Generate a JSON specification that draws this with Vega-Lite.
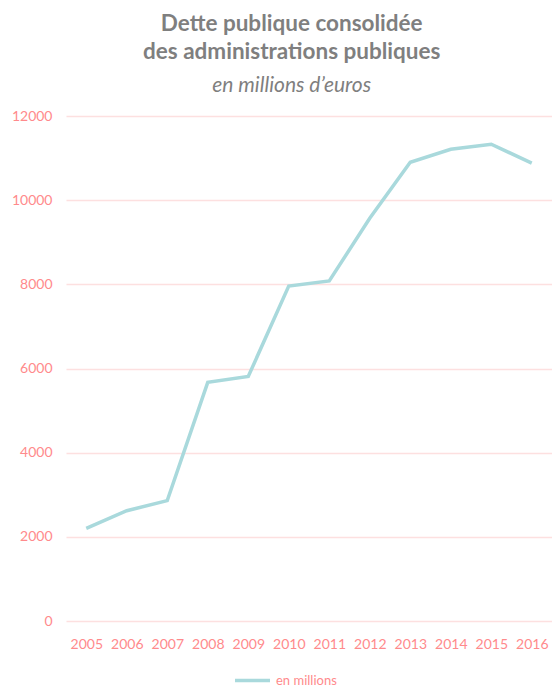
{
  "$schema": "https://vega.github.io/schema/vega-lite/v6.json",
  "width": 486,
  "height": 505,
  "autosize": {"type": "none"},
  "padding": {"left": 66, "top": 116, "right": 0, "bottom": 67},
  "background": "white",
  "title": {
    "text": ["Dette publique consolidée", "des administrations publiques"],
    "subtitle": "en millions d’euros",
    "anchor": "middle",
    "frame": "bounds",
    "dx": 10,
    "font": "Lato",
    "fontSize": 22.5,
    "fontWeight": "bold",
    "color": "#7f7f7f",
    "lineHeight": 28,
    "subtitleFont": "Lato",
    "subtitleFontSize": 21,
    "subtitleFontStyle": "italic",
    "subtitleColor": "#7f7f7f",
    "subtitlePadding": 12,
    "offset": 13
  },
  "data": {
    "values": [
      {"annee": "2005", "valeur": 2200, "serie": "en millions"},
      {"annee": "2006", "valeur": 2620, "serie": "en millions"},
      {"annee": "2007", "valeur": 2860, "serie": "en millions"},
      {"annee": "2008", "valeur": 5670, "serie": "en millions"},
      {"annee": "2009", "valeur": 5810, "serie": "en millions"},
      {"annee": "2010", "valeur": 7960, "serie": "en millions"},
      {"annee": "2011", "valeur": 8080, "serie": "en millions"},
      {"annee": "2012", "valeur": 9570, "serie": "en millions"},
      {"annee": "2013", "valeur": 10900, "serie": "en millions"},
      {"annee": "2014", "valeur": 11210, "serie": "en millions"},
      {"annee": "2015", "valeur": 11330, "serie": "en millions"},
      {"annee": "2016", "valeur": 10880, "serie": "en millions"}
    ]
  },
  "mark": {"type": "line", "strokeWidth": 3.5, "strokeCap": "butt"},
  "encoding": {
    "x": {
      "field": "annee",
      "type": "ordinal",
      "scale": {"type": "point", "padding": 0.5},
      "axis": {
        "title": null,
        "labelAngle": 0,
        "domain": false,
        "ticks": false,
        "labelFont": "Lato",
        "labelFontSize": 14,
        "labelColor": "#ff8a8c",
        "labelPadding": 16
      }
    },
    "y": {
      "field": "valeur",
      "type": "quantitative",
      "scale": {"domain": [0, 12000], "nice": false},
      "axis": {
        "title": null,
        "values": [0, 2000, 4000, 6000, 8000, 10000, 12000],
        "format": "d",
        "domain": false,
        "ticks": false,
        "labelFont": "Lato",
        "labelFontSize": 14,
        "labelColor": "#ff8a8c",
        "labelPadding": 14,
        "gridColor": "#fde0e0",
        "gridWidth": 1.5
      }
    },
    "color": {
      "field": "serie",
      "type": "nominal",
      "scale": {"range": ["#a9d9dc"]},
      "legend": {
        "title": null,
        "orient": "none",
        "legendX": 167,
        "legendY": 545,
        "symbolType": "stroke",
        "symbolStrokeWidth": 3.5,
        "symbolSize": 1225,
        "labelFont": "Lato",
        "labelFontSize": 13,
        "labelColor": "#ff8a8c",
        "labelOffset": 4
      }
    }
  },
  "config": {"view": {"stroke": null}}
}
